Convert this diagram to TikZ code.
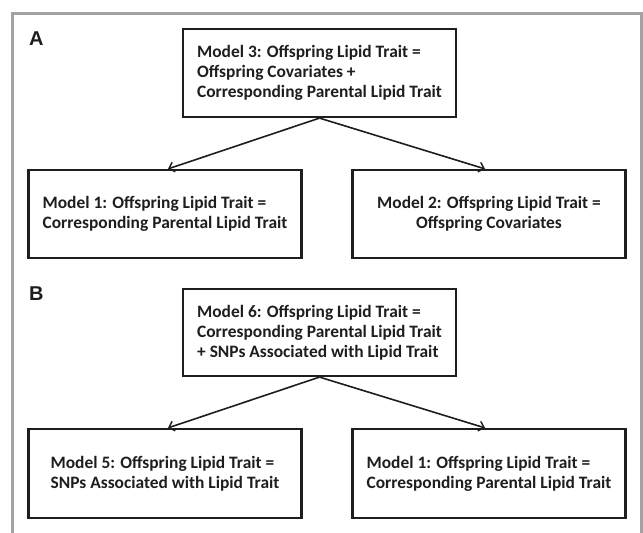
\documentclass[tikz,border=0pt]{standalone}
\usepackage{fontspec}
\newfontfamily\boxfont{Carlito}
\newfontfamily\labfont{Liberation Sans}
\usetikzlibrary{arrows.meta}
\definecolor{framegray}{HTML}{A3A3A3}
\definecolor{ink}{HTML}{1E1E1E}
\tikzset{
  modelbox/.style={draw=ink, line width=2.2pt, rectangle, minimum width=273pt, minimum height=88pt,
    inner sep=0pt, align=left, font=\boxfont\bfseries\fontsize{17.4}{20}\selectfont, text=ink},
  panellabel/.style={font=\labfont\bfseries\fontsize{20}{24}\selectfont, text=ink, inner sep=0pt, anchor=north west},
  link/.style={draw=ink, line width=1.6pt, -{Straight Barb[length=5pt,width=10pt,line width=1.4pt]}}
}
\newcommand{\gapsp}{\hspace{4pt}}
\begin{document}
\begin{tikzpicture}[x=1pt,y=-1pt]
\useasboundingbox (0,0) rectangle (643,533);
\fill[white] (0,0) rectangle (643,533);
\draw[framegray, line width=3pt] (12,534) -- (12,13) -- (641,13) -- (641,534);

\node[panellabel] (labA) at (29,32) {A};
\node[panellabel] (labB) at (29,287) {B};

\node[modelbox] (m3) at (319.5,73) {Model 3: Offspring Lipid Trait =\\Offspring Covariates +\\Corresponding\gapsp Parental Lipid Trait};
\node[modelbox] (m1a) at (165,214) {Model 1: Offspring Lipid Trait =\\Corresponding\gapsp Parental Lipid Trait};
\node[modelbox, align=center] (m2) at (489,214) {Model 2: Offspring Lipid Trait =\\Offspring Covariates};

\node[modelbox, minimum height=87pt] (m6) at (319.5,332.5) {Model 6: Offspring Lipid Trait =\\Corresponding\gapsp Parental Lipid Trait\\+ SNPs Associated with Lipid Trait};
\node[modelbox, minimum height=89pt] (m5) at (165,473.5) {Model 5: Offspring Lipid Trait =\\SNPs Associated with Lipid Trait};
\node[modelbox, minimum height=89pt] (m1b) at (489,473.5) {Model 1: Offspring Lipid Trait =\\Corresponding\gapsp Parental Lipid Trait};

\draw[link] (m3.south) -- ([xshift=3pt]m1a.north);
\draw[link] (m3.south) -- ([xshift=-4pt]m2.north);
\draw[link] (m6.south) -- ([xshift=3pt]m5.north);
\draw[link] (m6.south) -- ([xshift=-4pt]m1b.north);
\end{tikzpicture}
\end{document}
